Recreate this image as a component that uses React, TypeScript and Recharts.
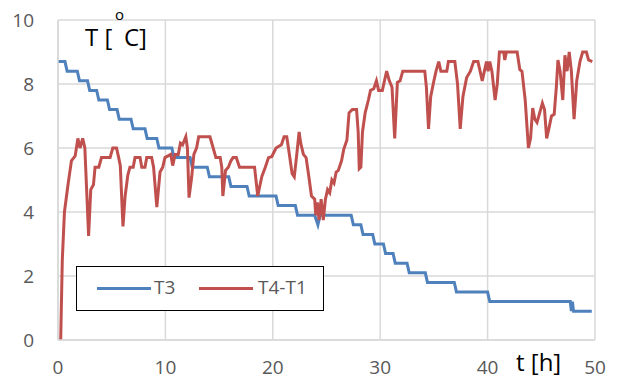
import React from 'react';
import { LineChart, Line, XAxis, YAxis, CartesianGrid, Legend } from 'recharts';

const t3Times = [0, 0.65, 0.85, 1.8, 2.0, 2.75, 2.95, 3.6, 3.8, 4.6, 4.8, 5.5, 5.7, 6.8, 7.0, 8.1, 8.3, 9.2, 9.4, 10.6, 10.8, 12.3, 12.5, 13.9, 14.1, 15.9, 16.1, 17.6, 17.8, 20.3, 20.5, 22.1, 22.3, 23.9, 24.2, 24.4, 27.3, 27.5, 28.2, 28.4, 29.3, 29.5, 30.3, 30.5, 31.2, 31.4, 32.5, 32.7, 34.2, 34.4, 36.9, 37.1, 40.0, 40.2, 47.7, 47.8, 47.9, 48.0, 49.7];
const t3Values = [8.7, 8.7, 8.4, 8.4, 8.1, 8.1, 7.8, 7.8, 7.5, 7.5, 7.2, 7.2, 6.9, 6.9, 6.6, 6.6, 6.3, 6.3, 6.0, 6.0, 5.7, 5.7, 5.4, 5.4, 5.1, 5.1, 4.8, 4.8, 4.5, 4.5, 4.2, 4.2, 3.9, 3.9, 3.6, 3.9, 3.9, 3.6, 3.6, 3.3, 3.3, 3.0, 3.0, 2.7, 2.7, 2.4, 2.4, 2.1, 2.1, 1.8, 1.8, 1.5, 1.5, 1.2, 1.2, 0.9, 1.2, 0.9, 0.9];

const dTimes = [0.25, 0.4, 0.6, 0.95, 1.25, 1.6, 1.85, 2.05, 2.3, 2.5, 2.85, 3.05, 3.3, 3.45, 3.8, 4.05, 4.85, 5.1, 5.45, 5.65, 5.8, 6.05, 6.25, 6.5, 6.7, 7.0, 7.17, 7.64, 7.8, 8.1, 8.26, 8.72, 8.9, 9.2, 9.5, 9.75, 9.96, 10.5, 10.68, 10.9, 11.2, 11.4, 11.6, 11.9, 12.05, 12.2, 12.45, 12.65, 12.9, 13.1, 14.15, 14.45, 14.7, 15.1, 15.25, 15.35, 15.6, 15.86, 16.1, 16.3, 16.6, 16.9, 18.3, 18.6, 18.97, 19.3, 19.6, 19.9, 20.3, 20.8, 21.05, 21.3, 21.5, 21.8, 22.0, 22.2, 22.45, 22.6, 22.85, 23.1, 23.4, 23.6, 23.9, 24.0, 24.15, 24.3, 24.5, 24.7, 24.9, 25.1, 25.3, 25.5, 25.7, 25.9, 26.1, 26.4, 26.6, 26.9, 27.1, 27.4, 27.8, 27.95, 28.05, 28.2, 28.35, 28.6, 28.9, 29.1, 29.4, 29.65, 29.85, 30.2, 30.6, 30.85, 31.1, 31.35, 31.6, 31.85, 32.1, 34.15, 34.3, 34.5, 34.7, 35.0, 35.2, 35.45, 35.65, 36.2, 36.35, 36.95, 37.2, 37.45, 37.7, 38.05, 38.4, 38.7, 39.1, 39.3, 39.5, 39.7, 39.9, 40.05, 40.2, 40.4, 40.7, 40.9, 41.1, 41.5, 41.6, 41.75, 42.75, 43.0, 43.2, 43.5, 43.8, 44.0, 44.2, 44.4, 44.6, 44.85, 45.1, 45.3, 45.5, 45.7, 45.95, 46.2, 46.4, 46.55, 46.75, 47.0, 47.2, 47.4, 47.6, 47.8, 48.05, 48.3, 48.6, 48.85, 49.2, 49.4, 49.75];
const dValues = [0, 2.5, 4.0, 4.9, 5.6, 5.75, 6.3, 6.0, 6.3, 6.0, 3.25, 4.7, 4.85, 5.4, 5.4, 5.7, 5.7, 6.0, 6.0, 5.7, 5.45, 3.55, 4.5, 5.15, 5.4, 5.4, 5.7, 5.7, 5.4, 5.4, 5.7, 5.7, 5.4, 4.15, 5.25, 5.4, 5.7, 5.8, 5.45, 5.8, 5.8, 6.15, 6.1, 6.35, 6.0, 4.45, 5.1, 5.8, 6.0, 6.35, 6.35, 6.0, 5.7, 5.7, 5.4, 4.5, 5.3, 5.4, 5.6, 5.7, 5.7, 5.4, 5.4, 4.5, 5.1, 5.4, 5.7, 5.73, 6.0, 6.1, 6.35, 6.35, 5.9, 5.2, 5.1, 5.7, 6.5, 6.15, 5.8, 5.7, 5.0, 4.5, 4.4, 3.9, 4.3, 3.75, 4.4, 3.75, 4.4, 4.7, 4.6, 5.0, 4.9, 5.25, 5.3, 5.6, 5.95, 6.25, 7.1, 7.2, 7.2, 6.5, 5.35, 5.4, 6.5, 7.1, 7.5, 7.8, 7.85, 8.1, 7.8, 7.8, 8.4, 8.1, 7.9, 6.3, 8.05, 8.1, 8.4, 8.4, 7.9, 6.6, 7.6, 8.1, 8.4, 8.7, 8.4, 8.4, 8.7, 8.7, 8.0, 6.6, 7.6, 8.2, 8.4, 8.7, 8.7, 8.4, 8.1, 8.4, 8.7, 8.4, 8.7, 8.4, 7.5, 8.0, 9.0, 9.0, 8.75, 9.0, 9.0, 8.45, 8.4, 7.5, 6.0, 6.3, 7.25, 6.9, 6.8, 7.1, 7.4, 7.2, 6.3, 6.6, 7.0, 7.05, 7.9, 8.75, 8.4, 7.5, 8.9, 8.4, 9.0, 8.4, 6.9, 8.1, 8.7, 9.0, 9.0, 8.75, 8.7];

const xTicks = [0, 10, 20, 30, 40, 50];
const yTicks = [0, 2, 4, 6, 8, 10];

const t3Data = t3Times.map((t, i) => ({ t, v: t3Values[i] }));
const dData = dTimes.map((t, i) => ({ t, v: dValues[i] }));

const FONT = '"Open Sans", "Liberation Sans", sans-serif';
const BLUE = '#4f81bd';
const RED = '#c0504d';
const GRID = '#d9d9d9';

const renderLegend = () => (
  <div
    style={{
      width: 248,
      height: 45,
      border: '1.5px solid #000',
      boxSizing: 'border-box',
      background: '#fff',
      position: 'relative',
      fontFamily: FONT,
      fontSize: 19,
      color: '#595959',
    }}
  >
    <div style={{ position: 'absolute', left: 20, top: 20, width: 54, height: 3, background: BLUE }} />
    <span style={{ position: 'absolute', left: 77, top: 7, lineHeight: '26px' }}>T3</span>
    <div style={{ position: 'absolute', left: 122, top: 20, width: 54, height: 3, background: RED }} />
    <span style={{ position: 'absolute', left: 181, top: 7, lineHeight: '26px' }}>T4-T1</span>
  </div>
);

export default function App() {
  return (
    <div style={{ position: 'absolute', left: 0, top: 0, width: 622, height: 379, background: '#fff' }}>
      <LineChart width={622} height={379} margin={{ top: 20, right: 27, bottom: 0, left: 0 }}>
        <CartesianGrid stroke={GRID} strokeWidth={1.5} />
        <XAxis
          type="number"
          dataKey="t"
          domain={[0, 50]}
          ticks={xTicks}
          height={39}
          axisLine={{ stroke: GRID, strokeWidth: 1.5 }}
          tickLine={false}
          tickSize={0}
          tickMargin={21}
          tick={{ fill: '#595959', fontSize: 19, fontFamily: FONT }}
          allowDataOverflow
        />
        <YAxis
          type="number"
          domain={[0, 10]}
          ticks={yTicks}
          width={58}
          axisLine={{ stroke: GRID, strokeWidth: 1.5 }}
          tickLine={false}
          tickSize={0}
          tickMargin={24}
          tick={{ fill: '#595959', fontSize: 19, fontFamily: FONT }}
          allowDataOverflow
        />
        <Legend
          layout="horizontal"
          verticalAlign="middle"
          align="center"
          content={renderLegend}
          wrapperStyle={{ position: 'absolute', left: 76, top: 266, width: 248, height: 45 }}
        />
        <Line
          data={t3Data}
          dataKey="v"
          name="T3"
          type="linear"
          stroke={BLUE}
          strokeWidth={3}
          dot={false}
          activeDot={false}
          isAnimationActive={false}
        />
        <Line
          data={dData}
          dataKey="v"
          name="T4-T1"
          type="linear"
          stroke={RED}
          strokeWidth={3}
          dot={false}
          activeDot={false}
          isAnimationActive={false}
        />
        <text x={85} y={46} fontFamily={FONT} fontSize={24} fill="#000">T [</text>
        <text x={115} y={20} fontFamily={FONT} fontSize={15} fill="#000">o</text>
        <text x={124} y={46} fontFamily={FONT} fontSize={24} fill="#000">C]</text>
        <text x={516} y={371} fontFamily={FONT} fontSize={24} fill="#000">t [h]</text>
      </LineChart>
    </div>
  );
}
